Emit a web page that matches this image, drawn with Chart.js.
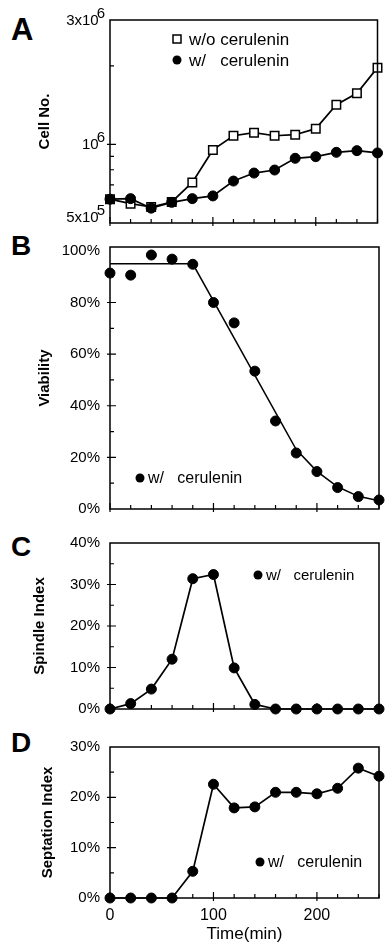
<!DOCTYPE html>
<html>
<head>
<meta charset="utf-8">
<script src="https://cdn.jsdelivr.net/npm/chart.js@4.4.1/dist/chart.umd.min.js"></script>
<style>
  body { margin: 0; background: #fff; width: 385px; height: 945px; overflow: hidden; position: relative; }
  canvas { position: absolute; left: 0; }
  .lbl { position: absolute; left: 11px; line-height: 1; font: bold 28px "Liberation Sans", Arial, sans-serif; color: #000; }
</style>
</head>
<body>
<div class="lbl" style="top:12px;font-size:31px">A</div>
<div class="lbl" style="top:230px">B</div>
<div class="lbl" style="top:531px">C</div>
<div class="lbl" style="top:727px">D</div>
<canvas id="cellChart" width="385" height="234" style="top:0"></canvas>
<canvas id="viaChart" width="385" height="300" style="top:228px"></canvas>
<canvas id="spinChart" width="385" height="204" style="top:524px"></canvas>
<canvas id="septChart" width="385" height="217" style="top:728px"></canvas>
<script>
'use strict';

// sampling times (min)
const times = [0, 20, 40, 60, 80, 100, 120, 140, 160, 180, 200, 220, 240, 260];

// A: cell number
const cellNoWithout = [6.17e5, 5.93e5, 5.76e5, 6.02e5, 7.15e5, 9.53e5, 1.08e6, 1.11e6, 1.08e6, 1.09e6, 1.15e6, 1.42e6, 1.57e6, 1.97e6];
const cellNoWith = [6.17e5, 6.2e5, 5.7e5, 6.0e5, 6.2e5, 6.35e5, 7.24e5, 7.77e5, 7.98e5, 8.85e5, 8.98e5, 9.33e5, 9.47e5, 9.28e5];
const cellTicks = [5e5, 1e6, 3e6];
const cellTickBase = ['5x10', '10', '3x10'];
const cellTickExp = ['5', '6', '6'];

// B: viability (%), points plus hand-drawn fit
const viability = [91.4, 90.6, 98.4, 96.8, 94.8, 80.0, 72.1, 53.4, 34.1, 21.7, 14.5, 8.3, 4.8, 3.5];
const fitTimes = [0, 80, 180, 200, 220, 240, 260];
const viabilityFit = [95, 95, 23, 14.6, 8.6, 4.9, 3.2];

// C: spindle index (%)
const spindle = [0, 1.3, 4.8, 12.0, 31.4, 32.4, 9.9, 1.1, 0, 0, 0, 0, 0, 0];

// D: septation index (%)
const septation = [0, 0, 0, 0, 5.3, 22.6, 17.9, 18.1, 21.0, 21.0, 20.7, 21.8, 25.8, 24.2];

const timeTicks = [0, 100, 200];
const FONT = '"Liberation Sans", Arial, sans-serif';

function pts(xs, ys) {
  return xs.map((x, i) => ({ x: x, y: ys[i] }));
}

// box around the plot, inward tick marks, power-of-ten labels and the in-plot legend
const framePlugin = {
  id: 'frame',
  afterDraw(chart, args, opts) {
    const ctx = chart.ctx;
    const a = chart.chartArea;
    const xs = chart.scales.x, ys = chart.scales.y;
    ctx.save();
    ctx.strokeStyle = '#000';
    ctx.lineWidth = 1.5;
    ctx.strokeRect(a.left, a.top, a.right - a.left, a.bottom - a.top);
    ctx.lineWidth = 1.2;
    ctx.beginPath();
    for (let t = 0; t <= 260; t += 20) {
      const px = xs.getPixelForValue(t);
      const major = t % 100 === 0;
      ctx.moveTo(px, a.bottom + (major ? 3 : 0));
      ctx.lineTo(px, a.bottom - (major ? 6 : 4));
    }
    for (const v of opts.yMinor) {
      const py = ys.getPixelForValue(v);
      ctx.moveTo(a.left, py);
      ctx.lineTo(a.left + 4, py);
    }
    for (const v of opts.yMajor) {
      const py = ys.getPixelForValue(v);
      ctx.moveTo(a.left - 3, py);
      ctx.lineTo(a.left + 6, py);
    }
    ctx.stroke();
    ctx.fillStyle = '#000';

    if (opts.sup) {
      ctx.textBaseline = 'alphabetic';
      ctx.textAlign = 'right';
      ctx.font = '15px ' + FONT;
      opts.sup.values.forEach((v, i) => {
        const py = Math.min(ys.getPixelForValue(v) + 5, a.bottom - 1);
        ctx.fillText(opts.sup.exp[i], a.left - 5, py - 7);
        const ew = ctx.measureText(opts.sup.exp[i]).width;
        ctx.fillText(opts.sup.base[i], a.left - 5 - ew + 2, py);
      });
      ctx.textAlign = 'left';
    }

    const lg = opts.legend;
    ctx.font = lg.size + 'px ' + FONT;
    ctx.textBaseline = 'middle';
    lg.items.forEach((it, i) => {
      const mx = a.left + lg.dx, my = a.top + lg.dy + i * lg.gap;
      ctx.beginPath();
      if (it.style === 'rect') {
        ctx.fillStyle = '#fff';
        ctx.rect(mx - 4, my - 4, 8, 8);
        ctx.fill();
        ctx.lineWidth = 1.5;
        ctx.stroke();
      } else {
        ctx.fillStyle = '#000';
        ctx.arc(mx, my, 4.5, 0, Math.PI * 2);
        ctx.fill();
      }
      ctx.fillStyle = '#000';
      ctx.fillText(it.text, a.left + lg.tx, my + 1);
    });
    ctx.restore();
  }
};

function circles(data) {
  return {
    data: data,
    borderColor: '#000',
    borderWidth: 1.7,
    pointStyle: 'circle',
    pointRadius: 5,
    pointBackgroundColor: '#000',
    pointBorderColor: '#000',
    pointBorderWidth: 1,
    tension: 0,
    clip: false
  };
}

function panel(id, cfg) {
  const xAxis = {
    type: 'linear',
    min: 0,
    max: 260,
    afterBuildTicks: (s) => { s.ticks = timeTicks.map(v => ({ value: v })); },
    grid: { display: false, drawTicks: false },
    border: { display: false },
    ticks: { display: cfg.showX, padding: 8, color: '#000', font: { family: FONT, size: 16 } },
    title: { display: cfg.showX, text: 'Time(min)', color: '#000', padding: { top: 0, bottom: 0 }, font: { family: FONT, size: 17 } },
    afterFit: (s) => { s.height = cfg.xHeight; }
  };
  const yAxis = Object.assign({
    grid: { display: false, drawTicks: false },
    border: { display: false },
    title: { display: true, text: cfg.yTitle, color: '#000', padding: { top: cfg.titlePad, bottom: 0 }, font: { family: FONT, size: 15, weight: 'bold' } },
    afterFit: (s) => { s.width = 110; }
  }, cfg.y);
  return new Chart(document.getElementById(id), {
    type: 'line',
    data: { datasets: cfg.datasets },
    options: {
      responsive: false,
      animation: false,
      events: [],
      layout: { padding: { top: cfg.padTop, right: 6, bottom: 0, left: 0 } },
      plugins: {
        legend: { display: false },
        tooltip: { enabled: false },
        frame: { yMinor: cfg.yMinor, yMajor: cfg.yMajor, legend: cfg.legend, sup: cfg.sup }
      },
      scales: { x: xAxis, y: yAxis }
    },
    plugins: [framePlugin]
  });
}

function pctAxis(max, step) {
  return {
    type: 'linear',
    min: 0,
    max: max,
    ticks: {
      stepSize: step,
      includeBounds: false,
      padding: 10,
      color: '#000',
      font: { family: FONT, size: 15 },
      callback: (v) => v + '%'
    }
  };
}

function range(a, b, s) {
  const out = [];
  for (let v = a; v <= b + 1e-9; v += s) out.push(v);
  return out;
}

// A
panel('cellChart', {
  padTop: 20, xHeight: 11, showX: false, yTitle: 'Cell No.', titlePad: 36,
  datasets: [
    circles(pts(times, cellNoWith)),
    Object.assign(circles(pts(times, cellNoWithout)), {
      pointStyle: 'rect', pointRadius: 6, pointBackgroundColor: '#fff', pointBorderWidth: 1.5
    })
  ],
  y: {
    type: 'logarithmic',
    min: 5e5,
    max: 3e6,
    afterBuildTicks: (s) => { s.ticks = cellTicks.map(v => ({ value: v })); },
    ticks: { display: false }
  },
  sup: { values: cellTicks, base: cellTickBase, exp: cellTickExp },
  yMinor: [6e5, 7e5, 8e5, 9e5, 2e6],
  yMajor: [1e6],
  legend: { dx: 67, dy: 19, gap: 21, tx: 79, size: 17,
    items: [{ style: 'rect', text: 'w/o cerulenin' }, { style: 'circle', text: 'w/   cerulenin' }] }
});

// B
panel('viaChart', {
  padTop: 11, xHeight: 9, showX: false, yTitle: 'Viability', titlePad: 36,
  datasets: [
    Object.assign(circles(pts(times, viability)), { showLine: false }),
    Object.assign(circles(pts(fitTimes, viabilityFit)), { pointRadius: 0, borderWidth: 1.5 })
  ],
  y: pctAxis(101.5, 20),
  yMinor: range(10, 90, 20),
  yMajor: range(20, 80, 20),
  legend: { dx: 30, dy: 231, gap: 0, tx: 38, size: 16, items: [{ style: 'circle', text: 'w/   cerulenin' }] }
});

// C
panel('spinChart', {
  padTop: 11, xHeight: 8, showX: false, yTitle: 'Spindle Index', titlePad: 31,
  datasets: [circles(pts(times, spindle))],
  y: pctAxis(40, 10),
  yMinor: range(5, 35, 10),
  yMajor: range(10, 30, 10),
  legend: { dx: 148, dy: 32, gap: 0, tx: 156, size: 15, items: [{ style: 'circle', text: 'w/   cerulenin' }] }
});

// D
panel('septChart', {
  padTop: 14, xHeight: 47, showX: true, yTitle: 'Septation Index', titlePad: 39,
  datasets: [circles(pts(times, septation))],
  y: pctAxis(30, 10),
  yMinor: range(5, 25, 10),
  yMajor: range(10, 20, 10),
  legend: { dx: 150, dy: 115, gap: 0, tx: 158, size: 16, items: [{ style: 'circle', text: 'w/   cerulenin' }] }
});
</script>
</body>
</html>
